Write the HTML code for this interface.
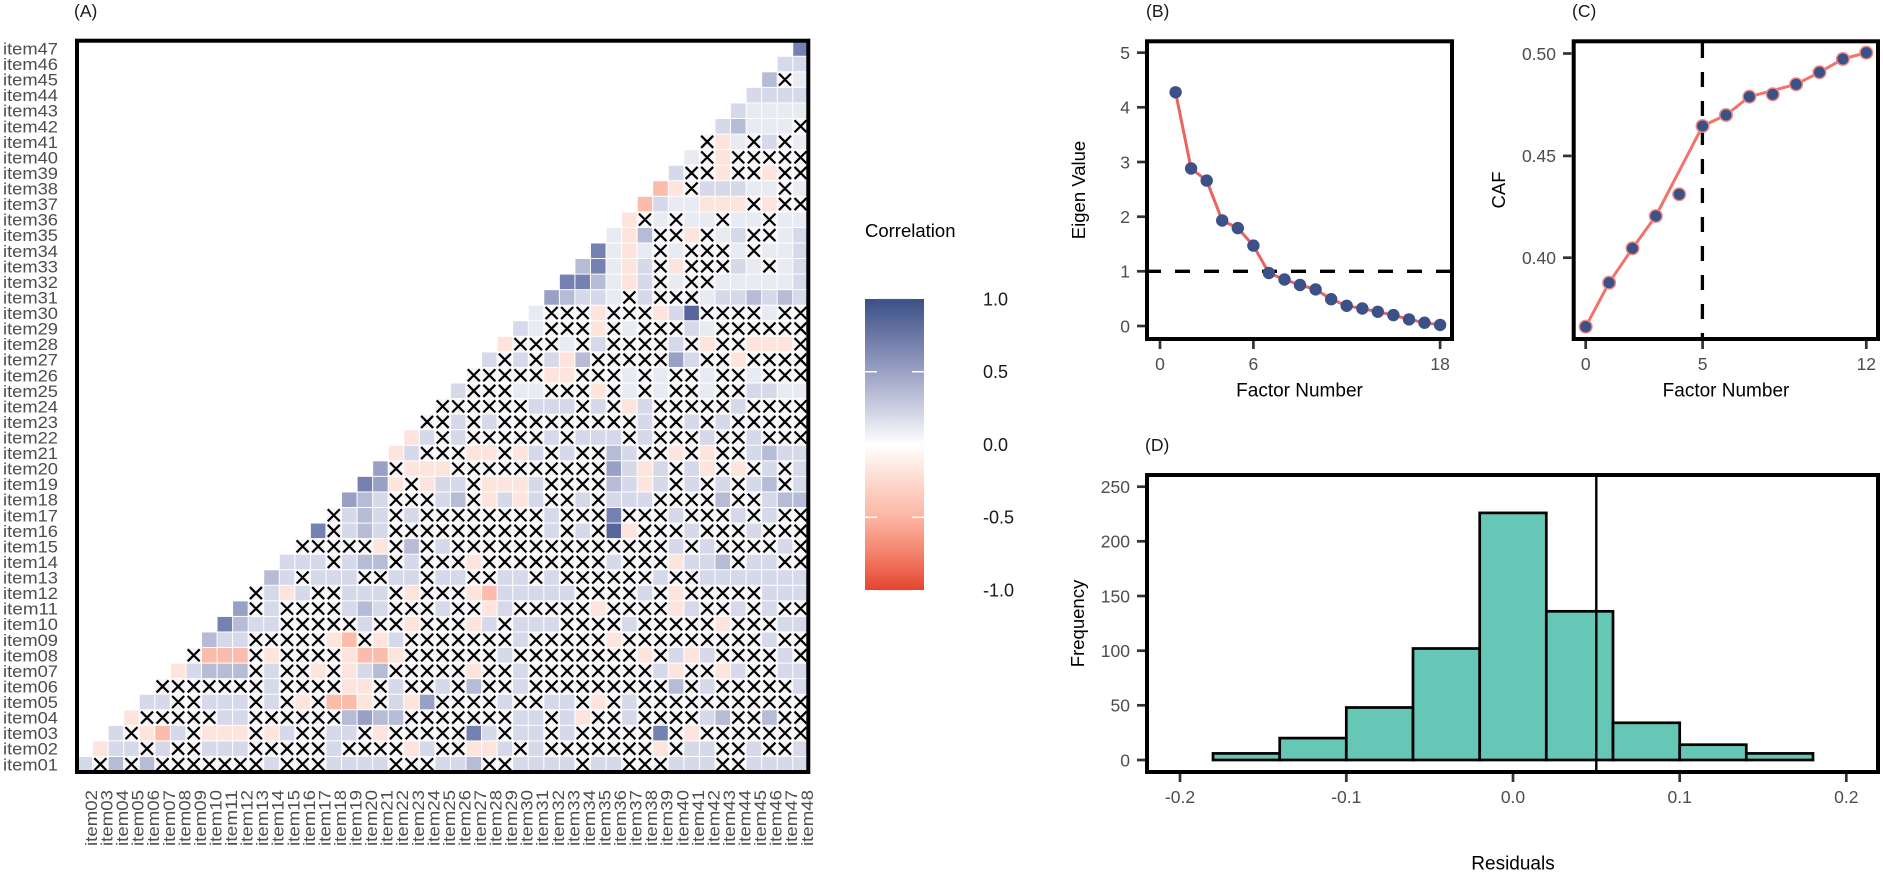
<!DOCTYPE html>
<html>
<head>
<meta charset="utf-8">
<style>
html,body{margin:0;padding:0;background:#fff;width:1883px;height:874px;overflow:hidden;}
svg{display:block;font-family:"Liberation Sans",Arial,sans-serif;}
.yl{font-size:17px;fill:#4d4d4d;text-anchor:end;}
.xl{font-size:17px;fill:#4d4d4d;text-anchor:end;}
.tk{font-size:17.5px;fill:#4d4d4d;}
.ttl{font-size:17.5px;fill:#1a1a1a;}
.ax{font-size:19px;fill:#000;text-anchor:middle;}
</style>
</head>
<body>
<svg width="1883" height="874" viewBox="0 0 1883 874">
<defs>
<linearGradient id="cg" x1="0" y1="0" x2="0" y2="1">
<stop offset="0" stop-color="#3b5087"/>
<stop offset="0.125" stop-color="#6b77a6"/>
<stop offset="0.25" stop-color="#9aa1c4"/>
<stop offset="0.375" stop-color="#cbcee1"/>
<stop offset="0.5" stop-color="#ffffff"/>
<stop offset="0.625" stop-color="#fed9cf"/>
<stop offset="0.75" stop-color="#fcb5a3"/>
<stop offset="0.875" stop-color="#f3826b"/>
<stop offset="1" stop-color="#e5442f"/>
</linearGradient>
</defs>

<!-- Panel A -->
<text class="ttl" x="74" y="17">(A)</text>
<g id="hm"></g>
<rect x="77" y="40.7" width="731.3" height="731.3" fill="none" stroke="#000" stroke-width="4"/>

<g>
<text class="yl" x="58" y="54.5" textLength="55" lengthAdjust="spacingAndGlyphs">item47</text>
<text class="yl" x="58" y="70.06" textLength="55" lengthAdjust="spacingAndGlyphs">item46</text>
<text class="yl" x="58" y="85.62" textLength="55" lengthAdjust="spacingAndGlyphs">item45</text>
<text class="yl" x="58" y="101.18" textLength="55" lengthAdjust="spacingAndGlyphs">item44</text>
<text class="yl" x="58" y="116.74" textLength="55" lengthAdjust="spacingAndGlyphs">item43</text>
<text class="yl" x="58" y="132.3" textLength="55" lengthAdjust="spacingAndGlyphs">item42</text>
<text class="yl" x="58" y="147.86" textLength="55" lengthAdjust="spacingAndGlyphs">item41</text>
<text class="yl" x="58" y="163.42" textLength="55" lengthAdjust="spacingAndGlyphs">item40</text>
<text class="yl" x="58" y="178.98" textLength="55" lengthAdjust="spacingAndGlyphs">item39</text>
<text class="yl" x="58" y="194.54" textLength="55" lengthAdjust="spacingAndGlyphs">item38</text>
<text class="yl" x="58" y="210.1" textLength="55" lengthAdjust="spacingAndGlyphs">item37</text>
<text class="yl" x="58" y="225.66" textLength="55" lengthAdjust="spacingAndGlyphs">item36</text>
<text class="yl" x="58" y="241.22" textLength="55" lengthAdjust="spacingAndGlyphs">item35</text>
<text class="yl" x="58" y="256.78" textLength="55" lengthAdjust="spacingAndGlyphs">item34</text>
<text class="yl" x="58" y="272.34" textLength="55" lengthAdjust="spacingAndGlyphs">item33</text>
<text class="yl" x="58" y="287.9" textLength="55" lengthAdjust="spacingAndGlyphs">item32</text>
<text class="yl" x="58" y="303.46" textLength="55" lengthAdjust="spacingAndGlyphs">item31</text>
<text class="yl" x="58" y="319.02" textLength="55" lengthAdjust="spacingAndGlyphs">item30</text>
<text class="yl" x="58" y="334.58" textLength="55" lengthAdjust="spacingAndGlyphs">item29</text>
<text class="yl" x="58" y="350.14" textLength="55" lengthAdjust="spacingAndGlyphs">item28</text>
<text class="yl" x="58" y="365.7" textLength="55" lengthAdjust="spacingAndGlyphs">item27</text>
<text class="yl" x="58" y="381.26" textLength="55" lengthAdjust="spacingAndGlyphs">item26</text>
<text class="yl" x="58" y="396.82" textLength="55" lengthAdjust="spacingAndGlyphs">item25</text>
<text class="yl" x="58" y="412.38" textLength="55" lengthAdjust="spacingAndGlyphs">item24</text>
<text class="yl" x="58" y="427.94" textLength="55" lengthAdjust="spacingAndGlyphs">item23</text>
<text class="yl" x="58" y="443.5" textLength="55" lengthAdjust="spacingAndGlyphs">item22</text>
<text class="yl" x="58" y="459.06" textLength="55" lengthAdjust="spacingAndGlyphs">item21</text>
<text class="yl" x="58" y="474.62" textLength="55" lengthAdjust="spacingAndGlyphs">item20</text>
<text class="yl" x="58" y="490.18" textLength="55" lengthAdjust="spacingAndGlyphs">item19</text>
<text class="yl" x="58" y="505.74" textLength="55" lengthAdjust="spacingAndGlyphs">item18</text>
<text class="yl" x="58" y="521.3" textLength="55" lengthAdjust="spacingAndGlyphs">item17</text>
<text class="yl" x="58" y="536.86" textLength="55" lengthAdjust="spacingAndGlyphs">item16</text>
<text class="yl" x="58" y="552.42" textLength="55" lengthAdjust="spacingAndGlyphs">item15</text>
<text class="yl" x="58" y="567.98" textLength="55" lengthAdjust="spacingAndGlyphs">item14</text>
<text class="yl" x="58" y="583.54" textLength="55" lengthAdjust="spacingAndGlyphs">item13</text>
<text class="yl" x="58" y="599.1" textLength="55" lengthAdjust="spacingAndGlyphs">item12</text>
<text class="yl" x="58" y="614.66" textLength="55" lengthAdjust="spacingAndGlyphs">item11</text>
<text class="yl" x="58" y="630.22" textLength="55" lengthAdjust="spacingAndGlyphs">item10</text>
<text class="yl" x="58" y="645.78" textLength="55" lengthAdjust="spacingAndGlyphs">item09</text>
<text class="yl" x="58" y="661.34" textLength="55" lengthAdjust="spacingAndGlyphs">item08</text>
<text class="yl" x="58" y="676.9" textLength="55" lengthAdjust="spacingAndGlyphs">item07</text>
<text class="yl" x="58" y="692.46" textLength="55" lengthAdjust="spacingAndGlyphs">item06</text>
<text class="yl" x="58" y="708.02" textLength="55" lengthAdjust="spacingAndGlyphs">item05</text>
<text class="yl" x="58" y="723.58" textLength="55" lengthAdjust="spacingAndGlyphs">item04</text>
<text class="yl" x="58" y="739.14" textLength="55" lengthAdjust="spacingAndGlyphs">item03</text>
<text class="yl" x="58" y="754.7" textLength="55" lengthAdjust="spacingAndGlyphs">item02</text>
<text class="yl" x="58" y="770.26" textLength="55" lengthAdjust="spacingAndGlyphs">item01</text>
</g>

<g>
<text class="xl" transform="translate(97,790) rotate(-90)" textLength="56" lengthAdjust="spacingAndGlyphs">item02</text>
<text class="xl" transform="translate(112.56,790) rotate(-90)" textLength="56" lengthAdjust="spacingAndGlyphs">item03</text>
<text class="xl" transform="translate(128.12,790) rotate(-90)" textLength="56" lengthAdjust="spacingAndGlyphs">item04</text>
<text class="xl" transform="translate(143.68,790) rotate(-90)" textLength="56" lengthAdjust="spacingAndGlyphs">item05</text>
<text class="xl" transform="translate(159.24,790) rotate(-90)" textLength="56" lengthAdjust="spacingAndGlyphs">item06</text>
<text class="xl" transform="translate(174.8,790) rotate(-90)" textLength="56" lengthAdjust="spacingAndGlyphs">item07</text>
<text class="xl" transform="translate(190.36,790) rotate(-90)" textLength="56" lengthAdjust="spacingAndGlyphs">item08</text>
<text class="xl" transform="translate(205.92,790) rotate(-90)" textLength="56" lengthAdjust="spacingAndGlyphs">item09</text>
<text class="xl" transform="translate(221.48,790) rotate(-90)" textLength="56" lengthAdjust="spacingAndGlyphs">item10</text>
<text class="xl" transform="translate(237.04,790) rotate(-90)" textLength="56" lengthAdjust="spacingAndGlyphs">item11</text>
<text class="xl" transform="translate(252.6,790) rotate(-90)" textLength="56" lengthAdjust="spacingAndGlyphs">item12</text>
<text class="xl" transform="translate(268.16,790) rotate(-90)" textLength="56" lengthAdjust="spacingAndGlyphs">item13</text>
<text class="xl" transform="translate(283.72,790) rotate(-90)" textLength="56" lengthAdjust="spacingAndGlyphs">item14</text>
<text class="xl" transform="translate(299.28,790) rotate(-90)" textLength="56" lengthAdjust="spacingAndGlyphs">item15</text>
<text class="xl" transform="translate(314.84,790) rotate(-90)" textLength="56" lengthAdjust="spacingAndGlyphs">item16</text>
<text class="xl" transform="translate(330.4,790) rotate(-90)" textLength="56" lengthAdjust="spacingAndGlyphs">item17</text>
<text class="xl" transform="translate(345.96,790) rotate(-90)" textLength="56" lengthAdjust="spacingAndGlyphs">item18</text>
<text class="xl" transform="translate(361.52,790) rotate(-90)" textLength="56" lengthAdjust="spacingAndGlyphs">item19</text>
<text class="xl" transform="translate(377.08,790) rotate(-90)" textLength="56" lengthAdjust="spacingAndGlyphs">item20</text>
<text class="xl" transform="translate(392.64,790) rotate(-90)" textLength="56" lengthAdjust="spacingAndGlyphs">item21</text>
<text class="xl" transform="translate(408.2,790) rotate(-90)" textLength="56" lengthAdjust="spacingAndGlyphs">item22</text>
<text class="xl" transform="translate(423.76,790) rotate(-90)" textLength="56" lengthAdjust="spacingAndGlyphs">item23</text>
<text class="xl" transform="translate(439.32,790) rotate(-90)" textLength="56" lengthAdjust="spacingAndGlyphs">item24</text>
<text class="xl" transform="translate(454.88,790) rotate(-90)" textLength="56" lengthAdjust="spacingAndGlyphs">item25</text>
<text class="xl" transform="translate(470.44,790) rotate(-90)" textLength="56" lengthAdjust="spacingAndGlyphs">item26</text>
<text class="xl" transform="translate(486,790) rotate(-90)" textLength="56" lengthAdjust="spacingAndGlyphs">item27</text>
<text class="xl" transform="translate(501.56,790) rotate(-90)" textLength="56" lengthAdjust="spacingAndGlyphs">item28</text>
<text class="xl" transform="translate(517.12,790) rotate(-90)" textLength="56" lengthAdjust="spacingAndGlyphs">item29</text>
<text class="xl" transform="translate(532.68,790) rotate(-90)" textLength="56" lengthAdjust="spacingAndGlyphs">item30</text>
<text class="xl" transform="translate(548.24,790) rotate(-90)" textLength="56" lengthAdjust="spacingAndGlyphs">item31</text>
<text class="xl" transform="translate(563.8,790) rotate(-90)" textLength="56" lengthAdjust="spacingAndGlyphs">item32</text>
<text class="xl" transform="translate(579.36,790) rotate(-90)" textLength="56" lengthAdjust="spacingAndGlyphs">item33</text>
<text class="xl" transform="translate(594.92,790) rotate(-90)" textLength="56" lengthAdjust="spacingAndGlyphs">item34</text>
<text class="xl" transform="translate(610.48,790) rotate(-90)" textLength="56" lengthAdjust="spacingAndGlyphs">item35</text>
<text class="xl" transform="translate(626.04,790) rotate(-90)" textLength="56" lengthAdjust="spacingAndGlyphs">item36</text>
<text class="xl" transform="translate(641.6,790) rotate(-90)" textLength="56" lengthAdjust="spacingAndGlyphs">item37</text>
<text class="xl" transform="translate(657.16,790) rotate(-90)" textLength="56" lengthAdjust="spacingAndGlyphs">item38</text>
<text class="xl" transform="translate(672.72,790) rotate(-90)" textLength="56" lengthAdjust="spacingAndGlyphs">item39</text>
<text class="xl" transform="translate(688.28,790) rotate(-90)" textLength="56" lengthAdjust="spacingAndGlyphs">item40</text>
<text class="xl" transform="translate(703.84,790) rotate(-90)" textLength="56" lengthAdjust="spacingAndGlyphs">item41</text>
<text class="xl" transform="translate(719.4,790) rotate(-90)" textLength="56" lengthAdjust="spacingAndGlyphs">item42</text>
<text class="xl" transform="translate(734.96,790) rotate(-90)" textLength="56" lengthAdjust="spacingAndGlyphs">item43</text>
<text class="xl" transform="translate(750.52,790) rotate(-90)" textLength="56" lengthAdjust="spacingAndGlyphs">item44</text>
<text class="xl" transform="translate(766.08,790) rotate(-90)" textLength="56" lengthAdjust="spacingAndGlyphs">item45</text>
<text class="xl" transform="translate(781.64,790) rotate(-90)" textLength="56" lengthAdjust="spacingAndGlyphs">item46</text>
<text class="xl" transform="translate(797.2,790) rotate(-90)" textLength="56" lengthAdjust="spacingAndGlyphs">item47</text>
<text class="xl" transform="translate(812.76,790) rotate(-90)" textLength="56" lengthAdjust="spacingAndGlyphs">item48</text>
</g>

<!-- Legend -->
<text x="865" y="237" style="font-size:18.5px;fill:#000;">Correlation</text>
<rect x="865" y="299" width="59" height="291" fill="url(#cg)"/>
<g stroke="#fff" stroke-width="1.5">
<line x1="865" y1="371.75" x2="877" y2="371.75"/><line x1="912" y1="371.75" x2="924" y2="371.75"/>
<line x1="865" y1="517.25" x2="877" y2="517.25"/><line x1="912" y1="517.25" x2="924" y2="517.25"/>
<line x1="865" y1="444.5" x2="877" y2="444.5"/><line x1="912" y1="444.5" x2="924" y2="444.5"/>
<line x1="877" y1="299.6" x2="912" y2="299.6" stroke="#4a5b8e"/>
<line x1="877" y1="589.4" x2="912" y2="589.4" stroke="#e0442f"/>
</g>
<g style="font-size:18px;fill:#1a1a1a;">
<text x="983" y="305.5">1.0</text>
<text x="983" y="378.2">0.5</text>
<text x="983" y="451">0.0</text>
<text x="983" y="523.7">-0.5</text>
<text x="983" y="596.5">-1.0</text>
</g>

<!-- Panel B -->
<text class="ttl" x="1146" y="17">(B)</text>
<line x1="1146" y1="271.3" x2="1450" y2="271.3" stroke="#000" stroke-width="3.3" stroke-dasharray="15 14"/>
<polyline fill="none" stroke="#e8645f" stroke-width="3" stroke-linejoin="round" points="1175.6,92.3 1191.1,168.5 1206.7,180.6 1222.2,220.5 1237.8,228.1 1253.4,245.6 1268.9,273 1284.5,279.5 1300,285 1315.6,289.4 1331.2,299.2 1346.7,305.8 1362.3,308.5 1377.8,311.8 1393.4,315.1 1409,319.4 1424.5,322.7 1440.1,324.9"/>
<g fill="#3d5189">
<circle cx="1175.6" cy="92.3" r="6.2"/><circle cx="1191.1" cy="168.5" r="6.2"/><circle cx="1206.7" cy="180.6" r="6.2"/><circle cx="1222.2" cy="220.5" r="6.2"/><circle cx="1237.8" cy="228.1" r="6.2"/><circle cx="1253.4" cy="245.6" r="6.2"/><circle cx="1268.9" cy="273" r="6.2"/><circle cx="1284.5" cy="279.5" r="6.2"/><circle cx="1300" cy="285" r="6.2"/><circle cx="1315.6" cy="289.4" r="6.2"/><circle cx="1331.2" cy="299.2" r="6.2"/><circle cx="1346.7" cy="305.8" r="6.2"/><circle cx="1362.3" cy="308.5" r="6.2"/><circle cx="1377.8" cy="311.8" r="6.2"/><circle cx="1393.4" cy="315.1" r="6.2"/><circle cx="1409" cy="319.4" r="6.2"/><circle cx="1424.5" cy="322.7" r="6.2"/><circle cx="1440.1" cy="324.9" r="6.2"/>
</g>
<rect x="1147" y="41.3" width="305" height="297.7" fill="none" stroke="#000" stroke-width="4"/>
<g stroke="#333" stroke-width="2.7">
<line x1="1137" y1="52.65" x2="1145" y2="52.65"/><line x1="1137" y1="107.3" x2="1145" y2="107.3"/><line x1="1137" y1="162" x2="1145" y2="162"/><line x1="1137" y1="216.7" x2="1145" y2="216.7"/><line x1="1137" y1="271.3" x2="1145" y2="271.3"/><line x1="1137" y1="326" x2="1145" y2="326"/>
<line x1="1160" y1="341" x2="1160" y2="349"/><line x1="1253.4" y1="341" x2="1253.4" y2="349"/><line x1="1440.1" y1="341" x2="1440.1" y2="349"/>
</g>
<g class="tk" style="text-anchor:end;">
<text x="1130" y="59">5</text><text x="1130" y="113.6">4</text><text x="1130" y="168.3">3</text><text x="1130" y="223">2</text><text x="1130" y="277.6">1</text><text x="1130" y="332.3">0</text>
</g>
<g class="tk" style="text-anchor:middle;">
<text x="1160" y="370">0</text><text x="1253.4" y="370">6</text><text x="1440.1" y="370">18</text>
</g>
<text class="ax" x="1299.5" y="396.5">Factor Number</text>
<text class="ax" transform="translate(1085,190) rotate(-90)" style="font-size:18.5px;">Eigen Value</text>

<!-- Panel C -->
<text class="ttl" x="1572" y="17">(C)</text>
<line x1="1702.4" y1="43" x2="1702.4" y2="338" stroke="#000" stroke-width="3.3" stroke-dasharray="15 14"/>
<polyline fill="none" stroke="#f07469" stroke-width="3" stroke-linejoin="round" points="1585.7,326.7 1609.1,282.7 1632.5,248.3 1655.8,216 1702.6,126 1726,115 1749.4,96.7 1796.1,84.3 1819.5,72.3 1842.9,59 1866.3,52.7"/>
<g fill="#3d5189" stroke="#f08a82" stroke-width="1.5">
<circle cx="1585.7" cy="326.7" r="6.3"/><circle cx="1609.1" cy="282.7" r="6.3"/><circle cx="1632.5" cy="248.3" r="6.3"/><circle cx="1655.8" cy="216" r="6.3"/><circle cx="1679.2" cy="194.3" r="6.3"/><circle cx="1702.6" cy="126" r="6.3"/><circle cx="1726" cy="115" r="6.3"/><circle cx="1749.4" cy="96.7" r="6.3"/><circle cx="1772.7" cy="94.3" r="6.3"/><circle cx="1796.1" cy="84.3" r="6.3"/><circle cx="1819.5" cy="72.3" r="6.3"/><circle cx="1842.9" cy="59" r="6.3"/><circle cx="1866.3" cy="52.7" r="6.3"/>
</g>
<rect x="1573.7" y="41.3" width="304.3" height="297.7" fill="none" stroke="#000" stroke-width="4"/>
<g stroke="#333" stroke-width="2.7">
<line x1="1563" y1="53.5" x2="1571.5" y2="53.5"/><line x1="1563" y1="155.9" x2="1571.5" y2="155.9"/><line x1="1563" y1="257.7" x2="1571.5" y2="257.7"/>
<line x1="1585.7" y1="341" x2="1585.7" y2="349"/><line x1="1702.6" y1="341" x2="1702.6" y2="349"/><line x1="1866.3" y1="341" x2="1866.3" y2="349"/>
</g>
<g class="tk" style="text-anchor:end;">
<text x="1556" y="59.8">0.50</text><text x="1556" y="162.2">0.45</text><text x="1556" y="264">0.40</text>
</g>
<g class="tk" style="text-anchor:middle;">
<text x="1585.7" y="370">0</text><text x="1702.6" y="370">5</text><text x="1866.3" y="370">12</text>
</g>
<text class="ax" x="1726" y="396.5">Factor Number</text>
<text class="ax" transform="translate(1505,190) rotate(-90)" style="font-size:18.5px;">CAF</text>

<!-- Panel D -->
<text class="ttl" x="1145" y="451">(D)</text>
<g fill="#67c7b6" stroke="#000" stroke-width="2.7">
<rect x="1213" y="753.4" width="66.7" height="6.6"/>
<rect x="1279.7" y="738.1" width="66.6" height="21.9"/>
<rect x="1346.3" y="707.5" width="66.7" height="52.5"/>
<rect x="1413" y="648.5" width="66.7" height="111.5"/>
<rect x="1479.7" y="512.9" width="66.6" height="247.1"/>
<rect x="1546.3" y="611.3" width="66.7" height="148.7"/>
<rect x="1613" y="722.8" width="66.7" height="37.2"/>
<rect x="1679.7" y="744.7" width="66.6" height="15.3"/>
<rect x="1746.3" y="753.4" width="66.7" height="6.6"/>
</g>
<line x1="1596.3" y1="475" x2="1596.3" y2="772" stroke="#000" stroke-width="2.4"/>
<rect x="1147" y="475" width="731" height="297" fill="none" stroke="#000" stroke-width="4"/>
<g stroke="#333" stroke-width="2.7">
<line x1="1137" y1="760" x2="1145" y2="760"/><line x1="1137" y1="705.3" x2="1145" y2="705.3"/><line x1="1137" y1="650.7" x2="1145" y2="650.7"/><line x1="1137" y1="596" x2="1145" y2="596"/><line x1="1137" y1="541.3" x2="1145" y2="541.3"/><line x1="1137" y1="486.7" x2="1145" y2="486.7"/>
<line x1="1180" y1="774" x2="1180" y2="782"/><line x1="1346.3" y1="774" x2="1346.3" y2="782"/><line x1="1513" y1="774" x2="1513" y2="782"/><line x1="1679.7" y1="774" x2="1679.7" y2="782"/><line x1="1846.3" y1="774" x2="1846.3" y2="782"/>
</g>
<g class="tk" style="text-anchor:end;">
<text x="1130" y="766.3">0</text><text x="1130" y="711.6">50</text><text x="1130" y="657">100</text><text x="1130" y="602.3">150</text><text x="1130" y="547.6">200</text><text x="1130" y="493">250</text>
</g>
<g class="tk" style="text-anchor:middle;">
<text x="1180" y="803">-0.2</text><text x="1346.3" y="803">-0.1</text><text x="1513" y="803">0.0</text><text x="1679.7" y="803">0.1</text><text x="1846.3" y="803">0.2</text>
</g>
<text class="ax" x="1513" y="869.5">Residuals</text>
<text class="ax" transform="translate(1084,623.5) rotate(-90)" style="font-size:18.5px;">Frequency</text>
</svg>

<script>
(function(){
var rows=[
"lXmXmXXXXXXXlXXXllllXXXllmXXllllXllXXXlllXXllll",
"rllXlXXlllXXXXXlXXXXrlXXrrlXlXXXXXXXrXllXXlXXl",
"lXrRlXrrrXrlXXllXrXXXXXDlXllXlXXXXXDXrXXXXXXX",
"rXXXXXllXXXXXXmBmmXXXXXXXllXlrXXlXXXXlmXXmXX",
"llXXlllXlXrXRRrXlrBXXXXlXXllXrXlXXXXXXXXXXX",
"XXXXXXXlXXXXrrXlXXlXmXXlXXXXXXXXXmXlXXXXXl",
"rlmmmXlXXrXrlmXXXXXrXXlXXXXXXXXlrXXrlXXll",
"XRRRXrXXXXrRRrXXXXXXlXXXXXXXXrXlrlXXXXlX",
"mllXXXXXrRXrlXXXXXXXlXXXXXrXXXXXXXXXlXX",
"DmllXXXXXlXXrXXXrlXlllXXXXlXXXXXrXXXll",
"BXlXXXXlmlXXXlXXrlXXXXXrXXXXrlXXlXlXX",
"XlrlXXlllXrXXXrRlllllXXXXlXrXXXXXlll",
"mlXlllXXllXllXXllXlXXXXXXlXXlllllll",
"lllXlmmXlXXXrXXXXXXXXlXXXrllmXllXX",
"XXXXXrXmXlXXXXXXXXXXXXXXlXlXXXXlX",
"DXlmlXXXXXXXXXXlXlXErXXXlXXXlXXX",
"XlmlXlXXXXXXXXlXXXDXXXlXXXlXlXX",
"BmlXXXlmXrlrlXXlXlllXXXXmXXlmm",
"DBrXrllXrrrlXXXXmlrlXlXlXlmXl",
"BXrrrXXXXXXXXXXBlrlXlrXrXlXl",
"rlXXXrrXrlXlXXmlXXrXrXXlmll",
"rlXlXXXXXlXlllXlXXXlXXlXXX",
"XXlXlXXXXXXXXXlXXlXlXXXXX",
"XXXXXXlllXlXrlXXXXXlXXXX",
"lXXXwwXXXrXwXwXXwXXllww",
"XXXXXrrXXXwXwXXwXXwXXX",
"lXlXlrmXXXXXBlXXrXXXX",
"rXXXwXlXXXXlXrXXrrrX",
"lwXXXrXwXXXlwXXXXXX",
"wXXXrXXXrlEXXXXwXX",
"BmllwXlXXXwllmlml",
"DDmwrlXwXXwwwwwl",
"mDwrlXrXXXlwXwl",
"DwrwXwXXXwXwwl",
"wrmXXrXwlXXwl",
"rXwXwwXwwXww",
"RlwwrrrXrXX",
"RrXlllwwXw",
"lXXrXXrXX",
"wXrXXXXX",
"XrwXlXw",
"lmwwwX",
"lwwww",
"llll",
"mXw",
"ll",
"D"
];
var col={w:'#e9ebf3',l:'#d6d9e9',m:'#b6bbd6',B:'#98a0c5',D:'#7581b0',E:'#56659b',r:'#fde4dd',R:'#fbbcab',X:'#f7f5f8'};
var s=15.56,x0=77,y0=40.7,h='',hx='';
for(var r=0;r<47;r++){
  var str=rows[r];
  for(var i=0;i<str.length;i++){
    var c=r+i; if(c>46)break;
    var ch=str.charAt(i);
    var x=x0+c*s, y=y0+(46-r)*s;
    h+='<rect x="'+(x+0.5).toFixed(2)+'" y="'+(y+0.5).toFixed(2)+'" width="14.56" height="14.56" fill="'+(col[ch]||'#eeeeee')+'"/>';
    if(ch==='X'){
      var cx=x+s/2, cy=y+s/2, d=6;
      hx+='M'+(cx-d).toFixed(2)+' '+(cy-d).toFixed(2)+'L'+(cx+d).toFixed(2)+' '+(cy+d).toFixed(2)+'M'+(cx-d).toFixed(2)+' '+(cy+d).toFixed(2)+'L'+(cx+d).toFixed(2)+' '+(cy-d).toFixed(2);
    }
  }
}
h+='<path d="'+hx+'" stroke="#000" stroke-width="2.2" fill="none"/>';
document.getElementById('hm').innerHTML=h;
})();
</script>
</body>
</html>
